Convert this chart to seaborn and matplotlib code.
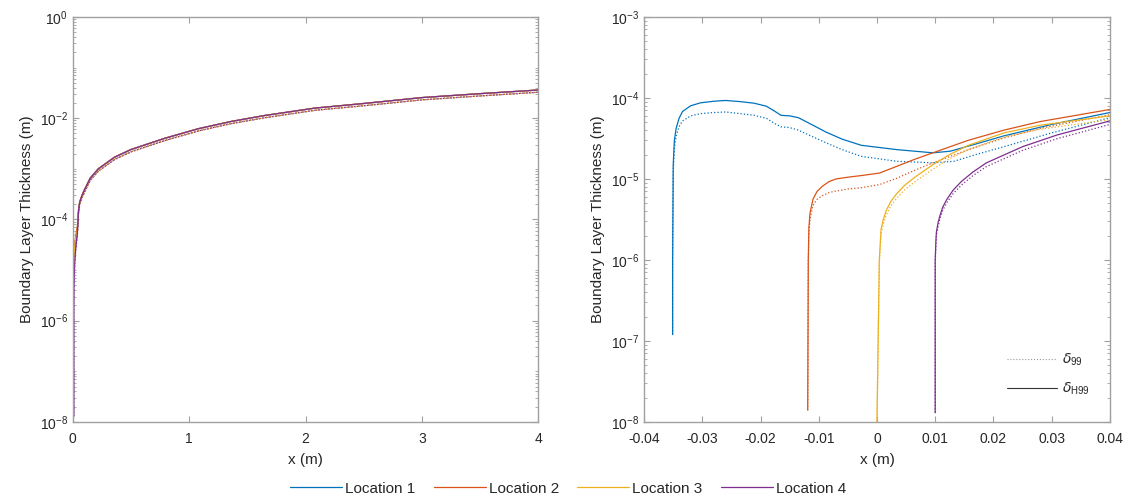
import numpy as np
import pandas as pd
import matplotlib
matplotlib.use("Agg")
import matplotlib.pyplot as plt
import seaborn as sns
from matplotlib.ticker import LogLocator, NullFormatter
from matplotlib.lines import Line2D

# near leading edge data, x in m
loc1_x_h = [-0.0351, -0.0351, -0.0350, -0.0348, -0.0345, -0.0340, -0.0334, -0.0320, -0.0303, -0.0280,
            -0.0260, -0.0235, -0.0211, -0.0190, -0.0175, -0.0165, -0.0150, -0.0135, -0.0110, -0.0088,
            -0.0060, -0.0027, 0.0034, 0.0096, 0.0126, 0.0170, 0.0218, 0.0300, 0.0400]
loc1_y_h = [1.2e-7, 1.0e-6, 1.5e-5, 3.0e-5, 4.2e-5, 5.6e-5, 6.8e-5, 8.0e-5, 8.7e-5, 9.1e-5,
            9.3e-5, 9.0e-5, 8.6e-5, 7.9e-5, 6.8e-5, 6.1e-5, 6.0e-5, 5.7e-5, 4.6e-5, 3.8e-5,
            3.1e-5, 2.6e-5, 2.3e-5, 2.1e-5, 2.2e-5, 2.7e-5, 3.4e-5, 4.7e-5, 6.6e-5]
loc1_x_d = [-0.0351, -0.0351, -0.0350, -0.0348, -0.0345, -0.0340, -0.0334, -0.0320, -0.0303, -0.0280,
            -0.0260, -0.0235, -0.0211, -0.0190, -0.0175, -0.0165, -0.0150, -0.0135, -0.0110, -0.0088,
            -0.0060, -0.0027, 0.0034, 0.0096, 0.0132, 0.0170, 0.0218, 0.0300, 0.0400]
loc1_y_d = [1.2e-7, 1.0e-6, 1.2e-5, 2.4e-5, 3.4e-5, 4.4e-5, 5.2e-5, 6.0e-5, 6.4e-5, 6.6e-5,
            6.7e-5, 6.4e-5, 6.1e-5, 5.6e-5, 4.8e-5, 4.4e-5, 4.3e-5, 4.0e-5, 3.3e-5, 2.8e-5,
            2.3e-5, 1.9e-5, 1.65e-5, 1.58e-5, 1.65e-5, 2.0e-5, 2.5e-5, 3.7e-5, 5.7e-5]

loc2_x_h = [-0.0119, -0.0118, -0.0117, -0.0115, -0.0110, -0.0103, -0.0094, -0.0082, -0.0070, -0.0050,
            -0.0027, 0.0004, 0.0034, 0.0065, 0.0096, 0.0157, 0.0218, 0.0280, 0.0400]
loc2_y_h = [1.4e-8, 1.0e-6, 2.5e-6, 3.8e-6, 5.6e-6, 7.0e-6, 8.1e-6, 9.3e-6, 1.0e-5, 1.05e-5,
            1.1e-5, 1.18e-5, 1.43e-5, 1.75e-5, 2.1e-5, 3.0e-5, 4.0e-5, 5.1e-5, 7.2e-5]
loc2_x_d = [-0.0119, -0.0118, -0.0117, -0.0115, -0.0110, -0.0103, -0.0094, -0.0082, -0.0070, -0.0050,
            -0.0027, 0.0004, 0.0034, 0.0065, 0.0096, 0.0157, 0.0218, 0.0280, 0.0400]
loc2_y_d = [1.4e-8, 9.0e-7, 2.1e-6, 3.2e-6, 4.7e-6, 5.6e-6, 6.2e-6, 6.8e-6, 7.1e-6, 7.5e-6,
            7.8e-6, 8.5e-6, 1.02e-5, 1.28e-5, 1.58e-5, 2.3e-5, 3.2e-5, 4.2e-5, 6.2e-5]

loc3_x_h = [0.0000, 0.0002, 0.0004, 0.0007, 0.0011, 0.0016, 0.0024, 0.0034, 0.0048, 0.0065, 0.0096,
            0.0125, 0.0157, 0.0218, 0.0280, 0.0400]
loc3_y_h = [1.0e-8, 1.0e-7, 1.0e-6, 2.4e-6, 3.2e-6, 4.1e-6, 5.3e-6, 6.6e-6, 8.4e-6, 1.05e-5, 1.5e-5,
            2.0e-5, 2.6e-5, 3.7e-5, 4.6e-5, 6.0e-5]
loc3_x_d = [0.0000, 0.0002, 0.0004, 0.0007, 0.0011, 0.0016, 0.0024, 0.0034, 0.0048, 0.0065, 0.0096,
            0.0125, 0.0157, 0.0218, 0.0280, 0.0400]
loc3_y_d = [1.0e-8, 1.0e-7, 9.0e-7, 2.1e-6, 2.8e-6, 3.6e-6, 4.7e-6, 5.8e-6, 7.4e-6, 9.2e-6, 1.32e-5,
            1.78e-5, 2.3e-5, 3.3e-5, 4.1e-5, 5.4e-5]

loc4_x_h = [0.0100, 0.0100, 0.0101, 0.0102, 0.0105, 0.0108, 0.0113, 0.0120, 0.0131, 0.0145, 0.0165,
            0.0188, 0.0250, 0.0310, 0.0400]
loc4_y_h = [1.3e-8, 1.0e-6, 1.6e-6, 2.2e-6, 2.9e-6, 3.5e-6, 4.5e-6, 5.6e-6, 7.3e-6, 9.3e-6, 1.22e-5,
            1.58e-5, 2.5e-5, 3.5e-5, 5.2e-5]
loc4_x_d = [0.0100, 0.0100, 0.0101, 0.0102, 0.0105, 0.0108, 0.0113, 0.0120, 0.0131, 0.0145, 0.0165,
            0.0188, 0.0250, 0.0310, 0.0400]
loc4_y_d = [1.3e-8, 9.0e-7, 1.4e-6, 2.0e-6, 2.6e-6, 3.2e-6, 4.1e-6, 5.1e-6, 6.6e-6, 8.4e-6, 1.1e-5,
            1.42e-5, 2.25e-5, 3.15e-5, 4.7e-5]

# downstream part, shared by all locations
tail_x = [0.05, 0.06, 0.08, 0.1, 0.15, 0.22, 0.36, 0.5, 0.79, 1.08, 1.36, 1.65, 2.08, 2.5, 3.0, 3.5, 4.0]
tail_y_h = [1.5e-4, 2.2e-4, 3.0e-4, 3.8e-4, 6.5e-4, 1.0e-3, 1.7e-3, 2.4e-3, 4.0e-3, 6.2e-3,
            8.6e-3, 1.13e-2, 1.58e-2, 1.95e-2, 2.55e-2, 3.05e-2, 3.6e-2]
tail_y_d = [1.35e-4, 2.0e-4, 2.7e-4, 3.4e-4, 5.9e-4, 9.0e-4, 1.53e-3, 2.16e-3, 3.6e-3, 5.6e-3,
            7.8e-3, 1.02e-2, 1.43e-2, 1.76e-2, 2.3e-2, 2.75e-2, 3.25e-2]

locations = ["Location 1", "Location 2", "Location 3", "Location 4"]
colors = ["#0072BD", "#D95319", "#EDB120", "#7E2F8E"]
series = {
    "Location 1": (loc1_x_h, loc1_y_h, loc1_x_d, loc1_y_d),
    "Location 2": (loc2_x_h, loc2_y_h, loc2_x_d, loc2_y_d),
    "Location 3": (loc3_x_h, loc3_y_h, loc3_x_d, loc3_y_d),
    "Location 4": (loc4_x_h, loc4_y_h, loc4_x_d, loc4_y_d),
}

sns.set_style("ticks")
plt.rcParams["font.family"] = ["Liberation Sans", "DejaVu Sans"]
plt.rcParams["mathtext.default"] = "regular"

fig = plt.figure(figsize=(11.36, 4.97), dpi=100)
ax1 = fig.add_axes([0.064, 0.151, 0.410, 0.815])
ax2 = fig.add_axes([0.567, 0.151, 0.410, 0.815])

for ax in (ax1, ax2):
    for loc, col in zip(locations, colors):
        xh, yh, xd, yd = series[loc]
        sns.lineplot(x=list(xh) + tail_x, y=list(yh) + tail_y_h, ax=ax, color=col,
                     lw=0.9, sort=False, estimator=None, legend=False)
        sns.lineplot(x=list(xd) + tail_x, y=list(yd) + tail_y_d, ax=ax, color=col,
                     lw=0.9, ls=":", sort=False, estimator=None, legend=False)
    ax.set_yscale("log")
    ax.set_xlabel("x (m)", fontsize=11, color="#262626", labelpad=5)
    ax.set_ylabel("Boundary Layer Thickness (m)", fontsize=11, color="#262626")
    ax.tick_params(which="both", direction="in", top=True, right=True,
                   colors="#a0a0a0", labelcolor="#262626", labelsize=10)
    ax.tick_params(axis="x", which="major", pad=7)
    ax.tick_params(which="major", length=4)
    ax.tick_params(which="minor", length=2)
    for s in ax.spines.values():
        s.set_color("#a0a0a0")
        s.set_linewidth(1.0)

ax1.set_xlim(0, 4)
ax1.set_ylim(1e-8, 1)
ax1.set_xticks([0, 1, 2, 3, 4])
ax1.set_yticks([1e-8, 1e-6, 1e-4, 1e-2, 1])
ax1.yaxis.set_minor_locator(LogLocator(base=10, subs=np.arange(1, 10), numticks=100))
ax1.yaxis.set_minor_formatter(NullFormatter())

ax2.set_xlim(-0.04, 0.04)
ax2.set_ylim(1e-8, 1e-3)
ax2.set_xticks([-0.04, -0.03, -0.02, -0.01, 0, 0.01, 0.02, 0.03, 0.04])
ax2.set_xticklabels(["-0.04", "-0.03", "-0.02", "-0.01", "0", "0.01", "0.02", "0.03", "0.04"])
ax2.set_yticks([1e-8, 1e-7, 1e-6, 1e-5, 1e-4, 1e-3])
ax2.yaxis.set_minor_locator(LogLocator(base=10, subs=np.arange(2, 10), numticks=100))
ax2.yaxis.set_minor_formatter(NullFormatter())

# line-style legend inside right panel
style_handles = [Line2D([], [], color="#999999", lw=0.8, ls=":"),
                 Line2D([], [], color="#333333", lw=0.8, ls="-")]
ax2.legend(style_handles, [r"$\mathit{\delta}_{99}$", r"$\mathit{\delta}_{H99}$"],
           loc="lower right", bbox_to_anchor=(0.985, 0.03), frameon=False,
           handlelength=3.6, handletextpad=0.4, fontsize=10, labelspacing=0.9)

# location legend at bottom
loc_handles = [Line2D([], [], color=c, lw=0.9) for c in colors]
fig.legend(loc_handles, locations, loc="lower center", ncol=4, frameon=False,
           bbox_to_anchor=(0.5, -0.025), fontsize=11, handlelength=3.4, columnspacing=1.2,
           handletextpad=0.2)

fig.savefig("out.png", dpi=100)
